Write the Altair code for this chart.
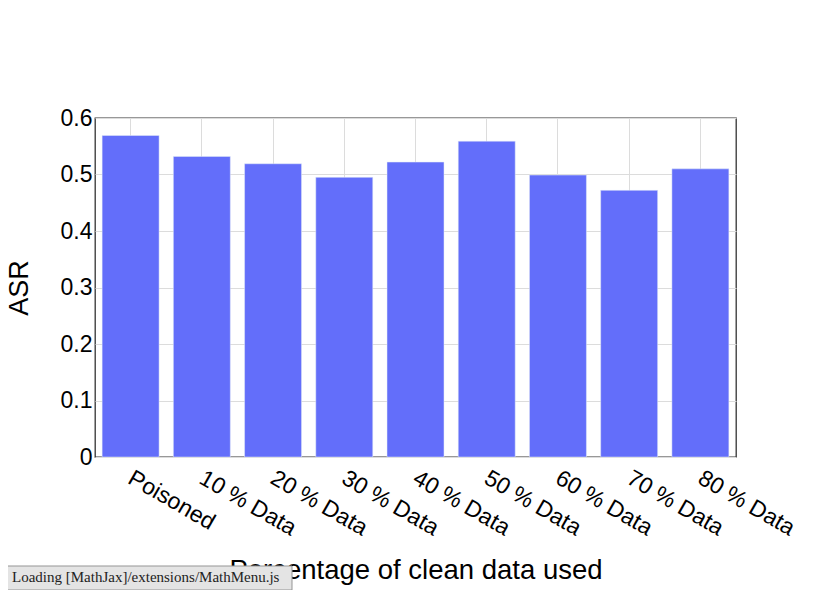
import altair as alt
import pandas as pd

categories = ["Poisoned", "10 % Data", "20 % Data", "30 % Data", "40 % Data",
              "50 % Data", "60 % Data", "70 % Data", "80 % Data"]
asr = [0.569, 0.532, 0.519, 0.495, 0.522, 0.559, 0.499, 0.472, 0.510]
y_ticks = [0, 0.1, 0.2, 0.3, 0.4, 0.5, 0.6]
notice_text = ["Loading [MathJax]/extensions/MathMenu.js"]

df = pd.DataFrame({"category": categories, "asr": asr})
note_df = pd.DataFrame({"label": notice_text})

FONT = "Liberation Sans"

bars = alt.Chart(df).mark_bar(
    color="#636efa", stroke="#E5ECF6", strokeWidth=0.5
).encode(
    x=alt.X(
        "category:N",
        sort=categories,
        scale=alt.Scale(paddingInner=0.2, paddingOuter=0.1),
        axis=alt.Axis(
            title="Percentage of clean data used",
            titleFont=FONT, titleFontSize=27.5, titleFontWeight="normal",
            titleColor="black", titleBaseline="alphabetic",
            titleX=320.5, titleY=121, titleAnchor="middle",
            labelFont=FONT, labelFontSize=23, labelColor="black",
            labelAngle=30, labelAlign="left", labelBaseline="alphabetic",
            labelPadding=25, labelOffset=-4,
            ticks=False, tickSize=0, domain=False,
            grid=True, gridColor="#dcdcdc", gridWidth=1,
            labelOverlap=False, zindex=0,
        ),
    ),
    y=alt.Y(
        "asr:Q",
        scale=alt.Scale(domain=[0, 0.6], nice=False),
        axis=alt.Axis(
            title="ASR",
            titleFont=FONT, titleFontSize=27, titleFontWeight="normal",
            titleColor="black", titleAngle=-90, titleBaseline="alphabetic",
            titleX=-68, titleY=169.5, titleAlign="center",
            values=y_ticks, format="~g",
            labelFont=FONT, labelFontSize=23, labelColor="black",
            labelPadding=3, ticks=False, tickSize=0, domain=False,
            grid=True, gridColor="#dcdcdc", gridWidth=1,
        ),
    ),
)

note_box = alt.Chart(note_df).mark_rect(
    fill="#e4e4e4", stroke="#959595", strokeWidth=1
).encode(
    x=alt.value(-92), x2=alt.value(197),
    y=alt.value(448), y2=alt.value(472),
)

note_text = alt.Chart(note_df).mark_text(
    font="Liberation Serif", fontSize=15, color="#222222",
    align="left", baseline="alphabetic"
).encode(
    x=alt.value(-83), y=alt.value(464),
    text="label:N",
)

chart = alt.layer(bars, note_box, note_text).properties(
    width=641, height=339,
    autosize="none",
    padding={"left": 87, "top": 110, "right": 87, "bottom": 133},
    background="white",
).configure_view(
    stroke="#333333", strokeWidth=1.3
)

chart.save("out.html", embed_options={"renderer": "svg", "actions": False})
